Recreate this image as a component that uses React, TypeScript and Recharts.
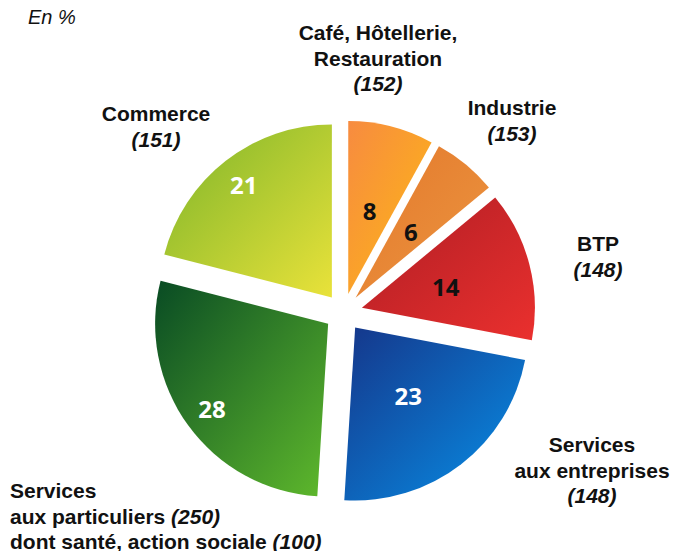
import { PieChart, Pie, Sector } from "recharts";

const categories = [
  "Café, Hôtellerie, Restauration",
  "Industrie",
  "BTP",
  "Services aux entreprises",
  "Services aux particuliers",
  "Commerce",
];
const shares = [8, 6, 14, 23, 28, 21];
const headcounts = [152, 153, 148, 148, 250, 151];
const labelLines = [
  ["Café, Hôtellerie,", "Restauration"],
  ["Industrie"],
  ["BTP"],
  ["Services", "aux entreprises"],
  ["Services", "aux particuliers"],
  ["Commerce"],
];
const subLabel = "dont santé, action sociale";
const subHeadcount = 100;
const unitLabel = "En %";

const data = categories.map((name, i) => ({ name, value: shares[i], headcount: headcounts[i] }));

// gradient stops per slice (top-left -> bottom-right)
const gradients = [
  ["#f78b40", "#fdb914"],
  ["#e3782c", "#ec9640"],
  ["#ae1d24", "#ea302e"],
  ["#15368a", "#0790e8"],
  ["#094b24", "#5fb92c"],
  ["#7cb42a", "#e9e23a"],
];
const numberColors = ["#111", "#111", "#111", "#fff", "#fff", "#fff"];

// where the outer captions sit: x, first line centre y, anchor, inline headcount
const captionLayout = [
  { x: 378, y: 32, anchor: "middle", inline: false },
  { x: 512, y: 107, anchor: "middle", inline: false },
  { x: 598, y: 243, anchor: "middle", inline: false },
  { x: 592, y: 444, anchor: "middle", inline: false },
  { x: 10, y: 490, anchor: "start", inline: true },
  { x: 156, y: 113, anchor: "middle", inline: false },
];

const RADIAN = Math.PI / 180;
const EXPLODE = 19;
const LINE = 25.5;
const captionFont = { fontFamily: "'Liberation Sans', Arial, sans-serif", fontSize: 21, fontWeight: 700 };

function renderSlice(props: any) {
  const { cx, cy, startAngle, endAngle, outerRadius, index, value } = props;
  const mid = (startAngle + endAngle) / 2;
  const norm = ((mid % 360) + 360) % 360;
  const dx = Math.cos(-mid * RADIAN);
  const dy = Math.sin(-mid * RADIAN);
  const ox = cx + dx * EXPLODE;
  const oy = cy + dy * EXPLODE;
  const r = outerRadius * (norm > 90 && norm < 270 ? 0.83 : 0.5);
  const cap = captionLayout[index];
  const lines = labelLines[index];
  const hc = data[index].headcount;

  return (
    <g>
      <Sector
        cx={ox}
        cy={oy}
        innerRadius={0}
        outerRadius={outerRadius}
        startAngle={startAngle}
        endAngle={endAngle}
        fill={`url(#slice${index})`}
        stroke="none"
      />
      <text
        x={ox + dx * r}
        y={oy + dy * r}
        textAnchor="middle"
        dominantBaseline="central"
        fill={numberColors[index]}
        style={{ fontFamily: "'Open Sans', 'Noto Sans', sans-serif", fontSize: 24, fontWeight: 700 }}
      >
        {value}
      </text>
      <text x={cap.x} y={cap.y} textAnchor={cap.anchor} dominantBaseline="central" fill="#111" style={captionFont}>
        {lines.map((line, k) => (
          <tspan key={k} x={cap.x} y={cap.y + k * LINE}>
            {line}
            {cap.inline && k === lines.length - 1 ? (
              <tspan fontStyle="italic">{` (${hc})`}</tspan>
            ) : null}
          </tspan>
        ))}
        {cap.inline ? (
          <tspan x={cap.x} y={cap.y + lines.length * LINE}>
            {subLabel}
            <tspan fontStyle="italic">{` (${subHeadcount})`}</tspan>
          </tspan>
        ) : (
          <tspan x={cap.x} y={cap.y + lines.length * LINE} fontStyle="italic">{`(${hc})`}</tspan>
        )}
      </text>
    </g>
  );
}

export default function App() {
  return (
    <div style={{ position: "absolute", left: 0, top: 0, width: 678, height: 551, background: "#fff" }}>
      <svg width={0} height={0} style={{ position: "absolute" }}>
        <defs>
          {gradients.map(([a, b], i) => (
            <linearGradient key={i} id={`slice${i}`} x1="0" y1="0" x2="1" y2="1">
              <stop offset="0%" stopColor={a} />
              <stop offset="100%" stopColor={b} />
            </linearGradient>
          ))}
        </defs>
      </svg>
      <PieChart width={678} height={551} margin={{ top: 0, right: 0, bottom: 0, left: 0 }}>
        <Pie
          data={data}
          dataKey="value"
          nameKey="name"
          cx={343.5}
          cy={312.5}
          innerRadius={0}
          outerRadius={173}
          startAngle={90}
          endAngle={-270}
          fill="transparent"
          stroke="none"
          label={renderSlice}
          labelLine={false}
          isAnimationActive={false}
        />
      </PieChart>
      <div
        style={{
          position: "absolute",
          left: 28,
          top: 6,
          fontFamily: "'Liberation Sans', Arial, sans-serif",
          fontStyle: "italic",
          fontSize: 20,
          color: "#111",
        }}
      >
        {unitLabel}
      </div>
    </div>
  );
}
